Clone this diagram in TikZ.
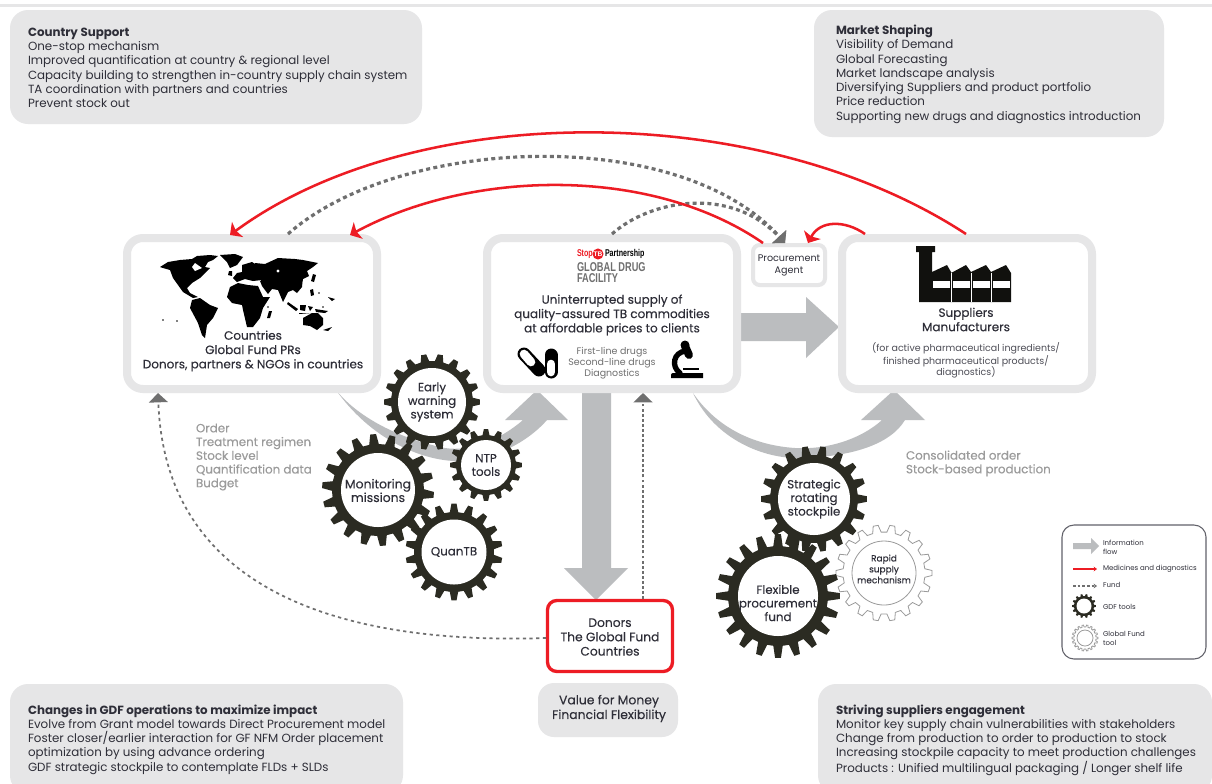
\documentclass[tikz,border=0pt]{standalone}
\usepackage{fontspec}
\setmainfont{Poppins}
\newfontfamily\logofont{Liberation Sans}
\newfontfamily\medfont{Poppins}[FakeBold=0.25]
\usetikzlibrary{arrows.meta,calc}
\definecolor{boxgray}{HTML}{E6E6E7}
\definecolor{flowgray}{HTML}{BBBDBF}
\definecolor{geardark}{HTML}{2B2B22}
\definecolor{gfred}{HTML}{ED1C24}
\definecolor{inktext}{HTML}{2E2E38}
\definecolor{softtext}{HTML}{9B9B9B}
\definecolor{fundgray}{HTML}{6F6F6F}
\newcommand{\fsz}[2]{\fontsize{#1}{#2}\selectfont}
\newcommand{\gearat}[8]{%
  \path[#8,shift={(#1,#2)}] (#7-0.30*360/#6:#4)
    \foreach \k in {1,...,#6}{
      -- ({#7+(\k-1)*360/#6-0.15*360/#6}:#3)
      -- ({#7+(\k-1)*360/#6+0.15*360/#6}:#3)
      -- ({#7+(\k-1)*360/#6+0.30*360/#6}:#4)
      -- ({#7+(\k-1)*360/#6+0.70*360/#6}:#4)
    } -- cycle;
  \path[#8,fill=white,shift={(#1,#2)}] (0,0) circle (#5);
}
\tikzset{
  every node/.append style={outer sep=0pt},
  panel/.style={fill=boxgray,draw=none,rounded corners=13.5pt,inner sep=0pt,anchor=north west},
  paneltext/.style={anchor=north west,inner sep=0pt,align=left,text=inktext,font=\fsz{8.9}{10.7}},
  frame/.style={draw=boxgray,line width=6pt,fill=white,rounded corners=12pt,inner sep=0pt,anchor=north west},
  boxtext/.style={inner sep=0pt,align=center,text=inktext,font=\medfont\fsz{9}{10.75}},
  softlabel/.style={anchor=north west,inner sep=0pt,align=left,text=softtext,font=\medfont\fsz{8.9}{10.3}},
  geartext/.style={inner sep=0pt,align=center,text=inktext,font=\medfont\fsz{8.9}{10.2}},
  medline/.style={draw=gfred,line width=1.9pt,-{Stealth[length=7pt,width=14pt,inset=1.5pt]}},
  fundline/.style={draw=fundgray,line width=2.4pt,dash pattern=on 3pt off 2.5pt,-{Triangle[length=6.5pt,width=14pt]}},
  thinfund/.style={draw=fundgray,line width=1.3pt,dash pattern=on 2.4pt off 2.6pt,-{Triangle[length=7pt,width=14pt]}},
  flow/.style={fill=flowgray,draw=none},
  darkgear/.style={fill=geardark},
  opengear/.style={fill=white,draw=fundgray!70,line width=.6pt},
  legtext/.style={anchor=west,inner sep=0pt,align=left,text=inktext,font=\fsz{5.25}{6.8}},
  mapshape/.style={fill=black,draw=none},
}
\begin{document}
\begin{tikzpicture}[x=0.75pt,y=-0.75pt]
\useasboundingbox (0,0) rectangle (1212,783);
\fill[white] (0,0) rectangle (1212,783);
\fill[boxgray] (0,4) rectangle (1212,7);

% ---------- grey panels
\node[panel,minimum width=309pt,minimum height=85.5pt] (pCS) at (10,10) {};
\node[panel,minimum width=262.5pt,minimum height=95.25pt] (pMS) at (814,10) {};
\node[panel,minimum width=294.75pt,minimum height=82pt] (pCH) at (10,684) {};
\node[panel,minimum width=295.5pt,minimum height=82pt] (pST) at (818,684) {};
\clip (0,0) rectangle (1212,783);
\node[paneltext] (tCS) at (28,28) {\textbf{Country Support}\\One-stop  mechanism\\Improved quantification at country \& regional level\\Capacity building to strengthen in-country supply chain system\\TA coordination with partners and countries\\Prevent stock out};
\node[paneltext] (tMS) at (836,25) {\textbf{Market Shaping}\\Visibility of Demand\\Global Forecasting\\Market landscape analysis\\Diversifying Suppliers and product portfolio\\Price reduction\\Supporting new drugs and diagnostics introduction};
\node[paneltext] (tCH) at (28,704.5) {\textbf{Changes in GDF operations to maximize impact}\\Evolve from Grant model towards Direct Procurement model\\Foster closer/earlier interaction for GF NFM Order placement\\optimization by using advance ordering\\GDF strategic stockpile to contemplate FLDs + SLDs};
\node[paneltext] (tST) at (836,704.5) {\textbf{Striving suppliers engagement}\\Monitor key supply chain vulnerabilities with stakeholders\\Change from production to order to production to stock\\Increasing stockpile capacity to meet production challenges\\Products : Unified multilingual packaging / Longer shelf life};

% ---------- big information-flow arrows
\path[flow] (336,390) .. controls (375,445) and (430,462) .. (460,461) .. controls (490,460) and (525,445) .. (547,420) -- (568,420) -- (537,390) -- (505,420) -- (523,420) .. controls (500,440) and (470,452) .. (445,448) .. controls (405,440) and (360,420) .. (336,390) -- cycle;
\path[flow] (693,393) .. controls (715,440) and (765,459) .. (800,458) .. controls (850,457) and (890,445) .. (905,420) -- (925,420) -- (894,390) -- (861,420) -- (882,420) .. controls (860,440) and (825,450) .. (795,448) .. controls (750,445) and (715,425) .. (693,393) -- cycle;
\path[flow] (737,313) -- (806,313) -- (806,297) -- (839,327) -- (806,358) -- (806,341) -- (737,341) -- cycle;
\path[flow] (582,389) -- (611,389) -- (611,568) -- (628,568) -- (596,600) -- (564,568) -- (582,568) -- cycle;

% ---------- main boxes
\node[frame,minimum width=187.5pt,minimum height=113.25pt] (countries) at (127,238) {};
\node[frame,minimum width=187.5pt,minimum height=113.25pt] (global) at (487,238) {};
\node[frame,minimum width=187.5pt,minimum height=113.25pt] (suppliers) at (842,238) {};
\node[draw=boxgray,line width=3pt,fill=white,rounded corners=5pt,inner sep=0pt,anchor=north west,minimum width=54pt,minimum height=30pt] (agent) at (753,245) {};
\node[draw=gfred,line width=2.5pt,fill=white,rounded corners=7pt,inner sep=0pt,anchor=north west,minimum width=93.75pt,minimum height=53.25pt] (donors) at (547.5,600.5) {};
\node[fill=boxgray,rounded corners=12pt,inner sep=0pt,anchor=north west,minimum width=105pt,minimum height=40.5pt] (value) at (538,683) {};

% ---------- connectors
\coordinate (outerStart) at (966,234);
\coordinate (outerEnd) at (230,235);
\coordinate (innerStart) at (763,243);
\coordinate (innerEnd) at (350,235);
\coordinate (shortStart) at (865,234);
\coordinate (shortEnd) at (808,243);
\coordinate (dotAStart) at (288,234);
\coordinate (dotBStart) at (612,234);
\coordinate (agentTop) at (785,243);
\coordinate (donorLeft) at (546,638);
\coordinate (countryUnder) at (158,393);
\coordinate (donorTop) at (643,599);
\coordinate (globalUnder) at (643,393);
\draw[fundline] (dotAStart) .. controls (400,135) and (680,125) .. (agentTop);
\draw[fundline] (dotBStart) .. controls (650,200) and (730,185) .. (agentTop);
\draw[medline] (outerStart) .. controls (760,99) and (415,99) .. (outerEnd);
\draw[medline] (innerStart) .. controls (650,165) and (470,170) .. (innerEnd);
\draw[medline] (shortStart) .. controls (845,220) and (820,220) .. (shortEnd);
\draw[thinfund] (donorLeft) .. controls (340,645) and (165,590) .. (countryUnder);
\draw[thinfund,line width=1.8pt,dash pattern=on 2.2pt off 1.6pt] (donorTop) -- (globalUnder);

% ---------- Global Drug Facility logo
\node[anchor=west,inner sep=0pt,text=gfred,font=\logofont\fsz{7.4}{8}\bfseries,xscale=.72,transform shape] (logoStop) at (577,254) {Stop};
\node[circle,fill=gfred,inner sep=0pt,minimum size=8.3pt,text=white,font=\logofont\fsz{5}{5}\bfseries] (logoTB) at (598,254) {TB};
\node[anchor=west,inner sep=0pt,text=black,font=\logofont\fsz{7.4}{8}\bfseries,xscale=.72,transform shape] (logoPart) at (605,254) {Partnership};
\node[anchor=west,inner sep=0pt,text=fundgray,font=\logofont\fsz{9.6}{10}\bfseries,xscale=.72,transform shape] (logoGD) at (577,267) {GLOBAL DRUG};
\node[anchor=west,inner sep=0pt,text=fundgray,font=\logofont\fsz{9.6}{10}\bfseries,xscale=.72,transform shape] (logoFA) at (577,278) {FACILITY};

% ---------- pills
\draw[line width=9.75pt,line cap=round,black] (524,354) -- (539,370);
\draw[line width=6.5pt,line cap=round,white] (524,354) -- (531,362);
\draw[line width=9.75pt,line cap=round,black] (551,355) -- (551,372);
\draw[line width=6.5pt,line cap=round,white] (551,364) -- (551,372);
% ---------- microscope
\path[fill=black] (671,375.5) to[rounded corners=1.5pt] (671,373) -- (703,373) -- (703,378) -- (671,378) -- cycle;
\draw[black,line width=4pt,line cap=round] (686,351) .. controls (673,352) and (671,367) .. (680,373);
\draw[black,line width=6pt,line cap=round] (685,346) -- (689,355);
\path[fill=black] (685,345) circle (4.5);
\draw[black,line width=1pt] (683,369) -- (699,369);

% ---------- factory
\path[fill=geardark!40!black] (916,246) -- (935,246) -- (935,252) -- (932,252) -- (932,272) -- (947,265) -- (951,272) -- (951,273) -- (966,265) -- (971,272) -- (986,265) -- (991,272) -- (1006,265) -- (1011,273) -- (1011,302) -- (919,302) -- (919,252) -- (916,252) -- cycle;
\foreach \wx/\wn in {933/a,953/b,973/c,993/d}{
  \path[fill=white] (\wx,281) rectangle ++(16.5,7);
}
\draw[white,line width=.4pt] (951.5,273) -- (951.5,302) (971.5,273) -- (971.5,302) (991.5,273) -- (991.5,302);

% ---------- box texts
\node[boxtext] (tCountries) at (253,351) {Countries\\Global Fund PRs\\Donors, partners \& NGOs in countries};
\node[boxtext] (tGlobal) at (612,315) {Uninterrupted supply of\\quality-assured TB commodities\\at affordable prices to clients};
\node[boxtext,text=fundgray,font=\fsz{7.1}{8.4}] (tDrugs) at (612,363) {First-line drugs\\Second-line drugs\\Diagnostics};
\node[boxtext,font=\fsz{7.2}{8.4}] (tAgent) at (789,265.5) {Procurement\\Agent};
\node[boxtext] (tSuppliers) at (966,319.5) {Suppliers\\Manufacturers};
\node[boxtext,font=\fsz{7.1}{8.5},text=inktext!85] (tForActive) at (966,360.5) {(for active pharmaceutical ingredients/\\finished pharmaceutical products/\\diagnostics)};
\node[boxtext,font=\medfont\fsz{9.2}{10.75}] (tDonors) at (610,637) {Donors\\The Global Fund\\Countries};
\node[boxtext,font=\medfont\fsz{9.3}{11}] (tValue) at (609,708.5) {Value for Money\\Financial Flexibility};
\node[softlabel] (tOrder) at (196,423.5) {Order\\Treatment regimen\\Stock level\\Quantification data\\Budget};
\node[softlabel] (tConsol) at (906,450.5) {Consolidated order\\Stock-based production};

% ---------- gears
\gearat{432}{402}{48}{41}{34}{18}{0}{darkgear}
\gearat{486}{465}{36}{30}{25}{16}{0}{darkgear}
\gearat{378}{490}{56}{46}{37}{18}{5}{darkgear}
\gearat{454}{552}{48.5}{40}{32.5}{18}{10}{darkgear}
\gearat{814}{499}{53}{44}{36}{18}{0}{darkgear}
\gearat{884}{573}{48}{41}{32}{18}{0}{opengear}
\gearat{778}{596}{62}{50}{40}{20}{0}{darkgear}
\node[geartext] (gEarly) at (432,402) {Early\\warning\\system};
\node[geartext] (gNTP) at (486,465) {NTP\\tools};
\node[geartext,font=\medfont\fsz{9.3}{10.2}] (gMon) at (378,490.5) {Monitoring\\missions};
\node[geartext] (gQuan) at (454,552) {QuanTB};
\node[geartext] (gStrat) at (814,499) {Strategic\\rotating\\stockpile};
\node[geartext] (gFlex) at (778,603) {Flexible\\procurement\\fund};
\node[geartext,font=\medfont\fsz{6.7}{8.2}] (gRapid) at (884,569) {Rapid\\supply\\mechanism};

% ---------- legend
\node[draw=inktext!75,line width=.8pt,rounded corners=9pt,fill=white,inner sep=0pt,anchor=north west,minimum width=108pt,minimum height=100.5pt] (legend) at (1062,525) {};
\path[flow] (1073,543) -- (1091,543) -- (1091,538) -- (1099,546) -- (1091,554) -- (1091,549) -- (1073,549) -- cycle;
\coordinate (legRa) at (1073,569);
\coordinate (legRb) at (1097,569);
\coordinate (legFa) at (1073,586);
\coordinate (legFb) at (1097,586);
\draw[gfred,line width=.8pt,-{Stealth[length=2.5pt,width=3.5pt]}] (legRa) -- (legRb);
\draw[fundgray,line width=.8pt,dash pattern=on 2pt off 1.5pt,-{Stealth[length=2.5pt,width=3.5pt]}] (legFa) -- (legFb);
\gearat{1084}{606}{12}{10}{7.5}{14}{0}{darkgear}
\gearat{1085}{638}{13}{11}{8}{18}{0}{opengear}
\node[legtext] (lInfo) at (1103,547) {Information\\flow};
\node[legtext] (lMed) at (1103,568.5) {Medicines and diagnostics};
\node[legtext] (lFund) at (1103,585) {Fund};
\node[legtext] (lGDF) at (1103,607) {GDF tools};
\node[legtext] (lGFT) at (1103,638) {Global Fund\\tool};

% ---------- world map, in picture pixels
\path[mapshape] (160,267) -- (168,262) -- (180,260) -- (192,259) -- (197,256) -- (210,255) -- (218,256) -- (213,260) -- (208,262) -- (205,267) -- (210,268) -- (200,278) -- (192,283) -- (187,288) -- (190,293) -- (198,297) -- (193,298) -- (183,292) -- (178,285) -- (173,278) -- (170,270) -- (163,268) -- cycle;
\path[mapshape] (192,300) -- (200,298) -- (210,305) -- (218,308) -- (213,318) -- (207,325) -- (205,338) -- (202,335) -- (198,323) -- (190,308) -- cycle;
\path[mapshape] (220,255) -- (235,254) -- (243,257) -- (237,265) -- (230,268) -- (227,262) -- cycle;
\path[mapshape] (230,287) -- (238,283) -- (248,285) -- (258,286) -- (263,297) -- (270,297) -- (263,308) -- (260,318) -- (253,327) -- (247,327) -- (243,310) -- (242,305) -- (232,303) -- (227,297) -- cycle;
\path[mapshape] (255,263) -- (265,264) -- (278,258) -- (295,259) -- (303,260) -- (318,263) -- (313,267) -- (307,271) -- (309,276) -- (303,279) -- (302,285) -- (288,288) -- (272,283) -- (262,282) -- (255,273) -- cycle;
\path[mapshape] (233,278) -- (237,273) -- (242,272) -- (242,265) -- (252,262) -- (257,265) -- (258,273) -- (262,280) -- (253,281) -- (245,279) -- (237,282) -- cycle;
\path[mapshape] (260,281) -- (288,283) -- (302,283) -- (302,287) -- (297,293) -- (293,290) -- (288,292) -- (283,302) -- (278,290) -- (272,289) -- (268,294) -- (262,286) -- cycle;
\path[mapshape] (303,318) -- (312,313) -- (318,313) -- (323,318) -- (323,325) -- (317,330) -- (310,326) -- (303,325) -- cycle;
\path[mapshape] (229,271) -- (232,271) -- (232,276) -- (228,275) -- cycle;
\path[mapshape] (269,311) -- (272,311) -- (270,318) -- (267,318) -- cycle;
\path[mapshape] (313,274) -- (316,275) -- (314,282) -- (311,281) -- cycle;
\path[mapshape] (288,302) -- (298,309) -- (296,311) -- (287,304) -- cycle;
\path[mapshape] (300,305) -- (306,305) -- (305,311) -- (300,310) -- cycle;
\path[mapshape] (308,306) -- (313,307) -- (310,311) -- cycle;
\path[mapshape] (315,309) -- (328,311) -- (325,313) -- (316,312) -- cycle;
\path[mapshape] (299,313) -- (312,313) -- (299,314) -- cycle;
\path[mapshape] (323,330) -- (332,327) -- (328,331) -- cycle;
\path[mapshape] (310,290) -- (313,289) -- (314,295) -- (311,296) -- cycle;
\path[mapshape] (328,297) -- (335,299) -- (332,301) -- cycle;
\path[mapshape] (163,320) circle (.9) (177,321) circle (.9) (268,307) circle (.9) (319,293) circle (.9) (323,307) circle (.9);
\fill[white] (278,271) circle (1.7);
\fill[white] (195,263) -- (202,268) -- (195,271) -- (192,267) -- cycle;
\end{tikzpicture}
\end{document}
